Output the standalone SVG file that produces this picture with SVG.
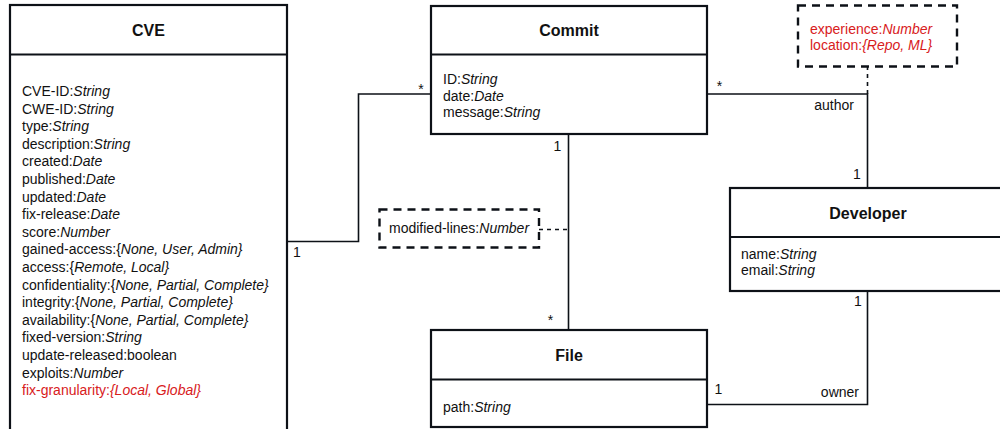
<svg xmlns="http://www.w3.org/2000/svg" width="1000" height="429" viewBox="0 0 1000 429">
<style>
  .box { fill: #ffffff; stroke: #0d1117; stroke-width: 2.2; }
  .sep { stroke: #0d1117; stroke-width: 2.2; }
  .note { fill: #ffffff; stroke: #0d1117; stroke-width: 2.4; stroke-dasharray: 8 6; }
  .conn { fill: none; stroke: #0d1117; stroke-width: 1.6; }
  .dconn { fill: none; stroke: #0d1117; stroke-width: 1.6; stroke-dasharray: 4 4; }
  text { font-family: "Liberation Sans", Arial, sans-serif; font-size: 14px; fill: #111111; }
  .title { font-weight: bold; font-size: 16px; text-anchor: middle; }
  .i { font-style: italic; }
  .red, .red tspan { fill: #d8201c; }
  .mid { text-anchor: middle; }
  .end { text-anchor: end; }
</style>

<g id="connectors">
  <polyline class="conn" points="287,241.5 358.5,241.5 358.5,94 431,94"/>
  <line class="conn" x1="568.5" y1="134" x2="568.5" y2="330"/>
  <polyline class="conn" points="707,94 867.5,94 867.5,188"/>
  <polyline class="conn" points="867.5,291 867.5,404.5 707,404.5"/>
  <line class="dconn" x1="539" y1="229.5" x2="568.5" y2="229.5"/>
  <line class="dconn" x1="867.5" y1="66" x2="867.5" y2="94"/>
  <text class="mid" x="421" y="94">*</text>
  <text class="mid" x="297" y="257">1</text>
  <text class="mid" x="557.5" y="151">1</text>
  <text class="mid" x="550.5" y="325">*</text>
  <text class="mid" x="719.5" y="90.5">*</text>
  <text class="end" x="854" y="110">author</text>
  <text class="mid" x="857" y="178.5">1</text>
  <text class="mid" x="858" y="306">1</text>
  <text class="mid" x="718.5" y="393.5">1</text>
  <text class="end" x="859" y="396.5">owner</text>
</g>

<g id="cve">
  <rect class="box" x="10" y="5" width="277" height="440"/>
  <line class="sep" x1="10" y1="54.5" x2="287" y2="54.5"/>
  <text class="title" x="148.5" y="36">CVE</text>
  <text x="22" y="96">CVE-ID:<tspan class="i">String</tspan></text>
  <text x="22" y="113.6">CWE-ID:<tspan class="i">String</tspan></text>
  <text x="22" y="131.2">type:<tspan class="i">String</tspan></text>
  <text x="22" y="148.8">description:<tspan class="i">String</tspan></text>
  <text x="22" y="166.4">created:<tspan class="i">Date</tspan></text>
  <text x="22" y="184">published:<tspan class="i">Date</tspan></text>
  <text x="22" y="201.6">updated:<tspan class="i">Date</tspan></text>
  <text x="22" y="219.2">fix-release:<tspan class="i">Date</tspan></text>
  <text x="22" y="236.8">score:<tspan class="i">Number</tspan></text>
  <text x="22" y="254.4">gained-access:{<tspan class="i">None, User, Admin}</tspan></text>
  <text x="22" y="272">access:{<tspan class="i">Remote, Local}</tspan></text>
  <text x="22" y="289.6">confidentiality:{<tspan class="i">None, Partial, Complete}</tspan></text>
  <text x="22" y="307.2">integrity:{<tspan class="i">None, Partial, Complete}</tspan></text>
  <text x="22" y="324.8">availability:{<tspan class="i">None, Partial, Complete}</tspan></text>
  <text x="22" y="342.4">fixed-version:<tspan class="i">String</tspan></text>
  <text x="22" y="360">update-released:boolean</text>
  <text x="22" y="377.6">exploits:<tspan class="i">Number</tspan></text>
  <text class="red" x="22" y="395.2">fix-granularity:<tspan class="i">{Local, Global}</tspan></text>
</g>

<g id="commit">
  <rect class="box" x="431" y="6" width="276" height="128"/>
  <line class="sep" x1="431" y1="54.5" x2="707" y2="54.5"/>
  <text class="title" x="569" y="36">Commit</text>
  <text x="443" y="84">ID:<tspan class="i">String</tspan></text>
  <text x="443" y="100.5">date:<tspan class="i">Date</tspan></text>
  <text x="443" y="117">message:<tspan class="i">String</tspan></text>
</g>

<g id="developer">
  <rect class="box" x="730" y="188" width="276" height="103"/>
  <line class="sep" x1="730" y1="237" x2="1006" y2="237"/>
  <text class="title" x="868" y="219">Developer</text>
  <text x="741" y="259">name:<tspan class="i">String</tspan></text>
  <text x="741" y="275">email:<tspan class="i">String</tspan></text>
</g>

<g id="file">
  <rect class="box" x="431" y="330" width="276" height="97"/>
  <line class="sep" x1="431" y1="379.5" x2="707" y2="379.5"/>
  <text class="title" x="569" y="361">File</text>
  <text x="443" y="411.5">path:<tspan class="i">String</tspan></text>
</g>

<g id="note-author">
  <rect class="note" x="798" y="5.5" width="159" height="61"/>
  <text class="red" x="810" y="33.5">experience:<tspan class="i">Number</tspan></text>
  <text class="red" x="810" y="49.5">location:<tspan class="i">{Repo, ML}</tspan></text>
</g>

<g id="note-modified">
  <rect class="note" x="379.5" y="209.5" width="159.5" height="38"/>
  <text x="389" y="232.5">modified-lines:<tspan class="i">Number</tspan></text>
</g>
</svg>
